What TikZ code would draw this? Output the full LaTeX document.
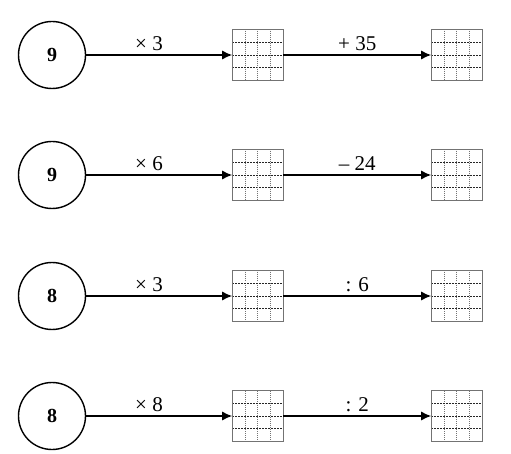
\documentclass[tikz,border=0pt]{standalone}
\usepackage{fontspec}
\setmainfont{Liberation Serif}
\usetikzlibrary{positioning,calc,arrows.meta}

\begin{document}
\begin{tikzpicture}[every node/.style={font=\fontsize{21}{24}\selectfont},
				num/.style={circle,draw,line width=1.4pt,minimum size=67pt,inner sep=0pt,font=\fontsize{20}{24}\selectfont\bfseries},
				gridbox/.style={draw=black!55,line width=1pt,minimum size=51pt,inner sep=0pt,outer sep=0pt,
					path picture={
						\foreach \k in {1,2,3} {
							\draw[black!55,line width=0.7pt,dash pattern=on 1pt off 1pt]
								($(path picture bounding box.south west)!\k/4!(path picture bounding box.south east)$) -- ++(0,51pt);
							\draw[black!85,line width=0.6pt,dash pattern=on 2pt off 1pt]
								($(path picture bounding box.south west)!\k/4!(path picture bounding box.north west)$) -- ++(51pt,0);
						}}},
				arr/.style={line width=1.3pt,-{Latex[length=10pt,width=9pt]}},
				op/.style={above=3.5pt,inner sep=0pt}]
				\useasboundingbox (0,0) rectangle (511pt,-454pt);
				% row 1
				\node (N1) [num] at (52pt,-55pt)   {9};
				\node (M1) [gridbox,right=146pt of N1] {};
				\node (R1) [gridbox,right=148pt of M1] {};
				% row 2
				\node (N2) [num] at (52pt,-175pt)  {9};
				\node (M2) [gridbox,right=146pt of N2] {};
				\node (R2) [gridbox,right=148pt of M2] {};
				% row 3
				\node (N3) [num] at (52pt,-296pt)  {8};
				\node (M3) [gridbox,right=146pt of N3] {};
				\node (R3) [gridbox,right=148pt of M3] {};
				% row 4
				\node (N4) [num] at (52pt,-416pt)  {8};
				\node (M4) [gridbox,right=146pt of N4] {};
				\node (R4) [gridbox,right=148pt of M4] {};

				\draw[arr] (N1) -- node[op,pos=0.43] (A1) {× 3} (M1);
				\draw[arr] (M1) -- node[op] (B1) {+ 35} (R1);
				\draw[arr] (N2) -- node[op,pos=0.43] (A2) {× 6} (M2);
				\draw[arr] (M2) -- node[op] (B2) {– 24} (R2);
				\draw[arr] (N3) -- node[op,pos=0.43] (A3) {× 3} (M3);
				\draw[arr] (M3) -- node[op] (B3) {: 6} (R3);
				\draw[arr] (N4) -- node[op,pos=0.43] (A4) {× 8} (M4);
				\draw[arr] (M4) -- node[op] (B4) {: 2} (R4);
			\end{tikzpicture}
\end{document}
